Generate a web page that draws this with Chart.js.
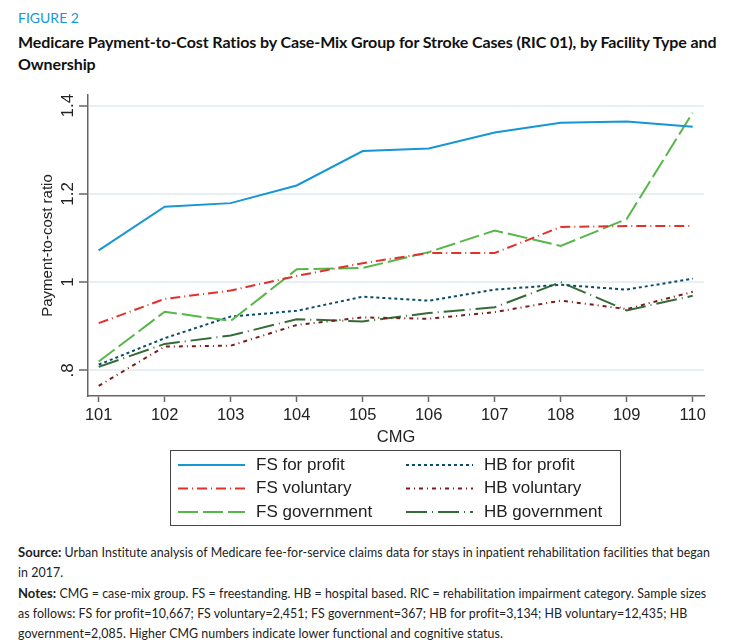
<!DOCTYPE html>
<html>
<head>
<meta charset="utf-8">
<script src="https://cdn.jsdelivr.net/npm/chart.js@4/dist/chart.umd.min.js"></script>
<style>
  body { margin: 0; background: #fff; width: 734px; height: 643px; position: relative; overflow: hidden; }
  .fig { position: absolute; left: 18px; top: 9px; font: 14px Lato, sans-serif; color: #1696d2; line-height: 18px; }
  .title { position: absolute; left: 18px; top: 31px; font: bold 16px Lato, sans-serif; color: #111; line-height: 22px; white-space: nowrap; letter-spacing: -0.1px; }
  #chartWrap { position: absolute; left: 0; top: 80px; }
  .notes { position: absolute; left: 18px; top: 542px; font: 12.4px Lato, sans-serif; color: #222; line-height: 20px; white-space: nowrap; letter-spacing: 0.05px; }
  .notes b { font-size: 13px; }
</style>
</head>
<body>
<div class="fig">FIGURE 2</div>
<div class="title">Medicare Payment-to-Cost Ratios by Case-Mix Group for Stroke Cases (RIC 01), by Facility Type and<br>Ownership</div>
<div id="chartWrap"><canvas id="chart" width="734" height="460"></canvas></div>
<div class="notes">
  <b>Source:</b> Urban Institute analysis of Medicare fee-for-service claims data for stays in inpatient rehabilitation facilities that began<br>
  in 2017.<br>
  <b>Notes:</b> CMG = case-mix group. FS = freestanding. HB = hospital based. RIC = rehabilitation impairment category. Sample sizes<br>
  as follows: FS for profit=10,667; FS voluntary=2,451; FS government=367; HB for profit=3,134; HB voluntary=12,435; HB<br>
  government=2,085. Higher CMG numbers indicate lower functional and cognitive status.
</div>
<script>
// CMG categories and payment-to-cost ratios
const cmgs = [101, 102, 103, 104, 105, 106, 107, 108, 109, 110];
const fsForProfit = [1.072, 1.171, 1.179, 1.219, 1.297, 1.303, 1.339, 1.361, 1.364, 1.352];
const fsVoluntary = [0.907, 0.962, 0.981, 1.014, 1.043, 1.066, 1.066, 1.125, 1.127, 1.127];
const fsGovernment = [0.820, 0.933, 0.912, 1.029, 1.032, 1.068, 1.117, 1.082, 1.143, 1.384];
const hbForProfit = [0.813, 0.873, 0.922, 0.935, 0.967, 0.958, 0.983, 0.994, 0.983, 1.008];
const hbVoluntary = [0.765, 0.854, 0.856, 0.903, 0.920, 0.917, 0.932, 0.958, 0.939, 0.978];
const hbGovernment = [0.808, 0.860, 0.879, 0.916, 0.911, 0.930, 0.943, 1.000, 0.936, 0.969];

const yTicks = [0.8, 1, 1.2, 1.4];
const yTickLabels = [".8", "1", "1.2", "1.4"];

const AXIS_FONT = "'Liberation Sans', Arial, sans-serif";

const toPoints = vals => vals.map((v, i) => ({ x: cmgs[i], y: v }));

const line = (label, vals, color, dash) => ({
  label,
  data: toPoints(vals),
  borderColor: color,
  backgroundColor: color,
  borderWidth: 2,
  borderDash: dash,
  pointRadius: 0,
  tension: 0,
  fill: false,
});

// order matters for the legend: first three in left column, rest in right
const datasets = [
  line("FS for profit", fsForProfit, "#1696d2", []),
  line("FS voluntary", fsVoluntary, "#e0312b", [10, 4, 1, 4]),
  line("FS government", fsGovernment, "#55b748", [20, 5]),
  line("HB for profit", hbForProfit, "#0a4c6a", [3, 3]),
  line("HB voluntary", hbVoluntary, "#7a1c1c", [4, 4, 1, 4]),
  line("HB government", hbGovernment, "#356b36", [21, 5, 1, 5]),
];

// rotated y tick labels (Stata style) + boxed two-column legend
const stataBits = {
  id: "stataBits",
  afterDraw(chart) {
    const ctx = chart.ctx;
    const y = chart.scales.y;
    ctx.save();
    ctx.fillStyle = "#222";
    ctx.font = "17px " + AXIS_FONT;
    ctx.textAlign = "center";
    ctx.textBaseline = "middle";
    yTicks.forEach((t, i) => {
      ctx.save();
      ctx.translate(68, y.getPixelForValue(t));
      ctx.rotate(-Math.PI / 2);
      ctx.fillText(yTickLabels[i], 0, 0);
      ctx.restore();
    });
    ctx.restore();

    // legend box
    ctx.save();
    ctx.strokeStyle = "#444";
    ctx.lineWidth = 1;
    ctx.strokeRect(170.5, 370.5, 450, 75);
    ctx.font = "17px " + AXIS_FONT;
    ctx.fillStyle = "#222";
    ctx.textBaseline = "middle";
    const rows = [385, 408.5, 432];
    const cols = [{ x0: 178, x1: 245, tx: 256 }, { x0: 406, x1: 473, tx: 484 }];
    chart.data.datasets.forEach((ds, i) => {
      const c = cols[Math.floor(i / 3)];
      const ry = rows[i % 3];
      ctx.save();
      ctx.strokeStyle = ds.borderColor;
      ctx.lineWidth = ds.borderWidth;
      ctx.setLineDash(ds.borderDash);
      ctx.beginPath();
      ctx.moveTo(c.x0, ry);
      ctx.lineTo(c.x1, ry);
      ctx.stroke();
      ctx.restore();
      ctx.fillText(ds.label, c.tx, ry);
    });
    ctx.restore();
  }
};

new Chart(document.getElementById("chart"), {
  type: "line",
  data: { datasets },
  plugins: [stataBits],
  options: {
    responsive: false,
    animation: false,
    layout: { padding: { top: 15, right: 30, left: 0, bottom: 84 } },
    plugins: { legend: { display: false }, tooltip: { enabled: false } },
    scales: {
      x: {
        type: "linear",
        min: 100.838,
        max: 110.171,
        afterBuildTicks: s => { s.ticks = cmgs.map(v => ({ value: v })); },
        afterFit: s => { s.height = 60; },
        grid: { drawOnChartArea: false, drawTicks: true, tickLength: 6, tickColor: "#666", tickWidth: 1.5 },
        border: { display: true, color: "#666", width: 1.5 },
        ticks: {
          padding: 4,
          color: "#222",
          font: { family: AXIS_FONT, size: 16.5 },
          callback: v => String(v),
        },
        title: { display: true, text: "CMG", color: "#222", font: { family: AXIS_FONT, size: 16.5 }, padding: { top: 0, bottom: 9 } },
      },
      y: {
        min: 0.742,
        max: 1.424,
        afterBuildTicks: s => { s.ticks = yTicks.map(v => ({ value: v })); },
        afterFit: s => { s.width = 88; },
        grid: { color: "#e8f0f3", lineWidth: 2, drawTicks: true, tickLength: 9, tickColor: "#666", tickWidth: 1.5 },
        border: { display: true, color: "#666", width: 1.5 },
        ticks: { display: false },
        title: { display: true, text: "Payment-to-cost ratio", color: "#222", font: { family: AXIS_FONT, size: 15 }, padding: { top: 39, bottom: 0 } },
      },
    },
  },
});
</script>
</body>
</html>
